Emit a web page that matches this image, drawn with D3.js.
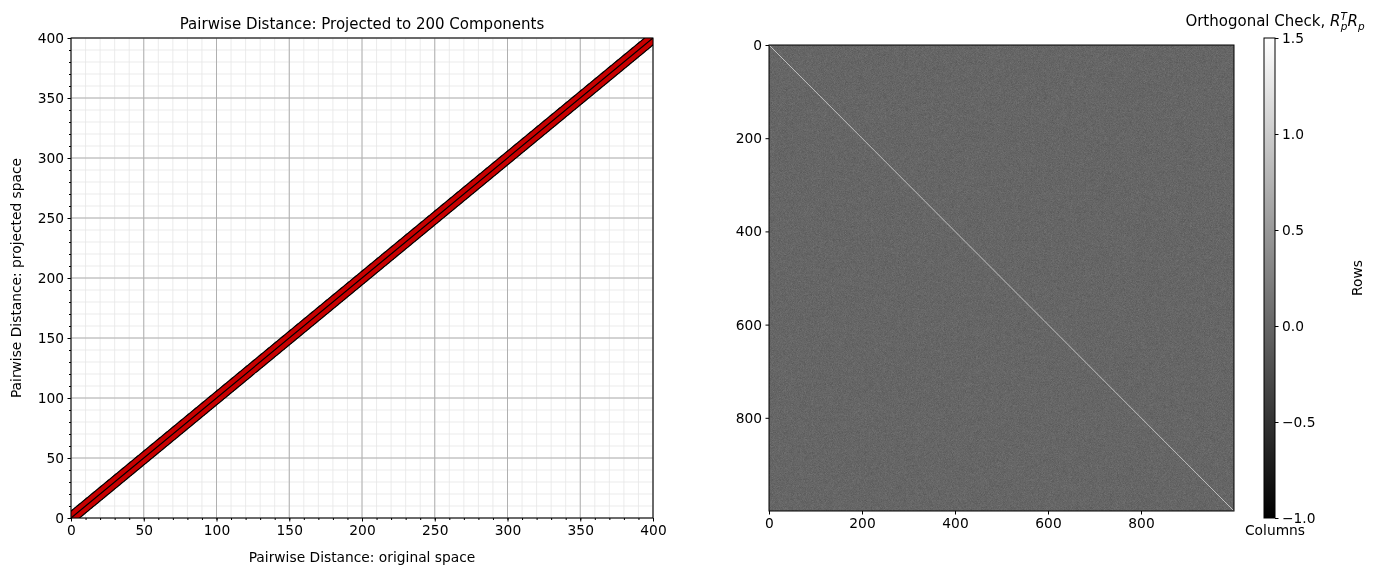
<!DOCTYPE html>
<html><head><meta charset="utf-8">
<script src="https://cdn.jsdelivr.net/npm/d3@7"></script>
<style>body{margin:0;background:#fff}svg{font-family:"DejaVu Sans",sans-serif}</style>
</head><body>
<div style="position:relative;width:1386px;height:576px">
<canvas id="hm" width="1000" height="1000" style="position:absolute;left:769px;top:45px;width:465px;height:466px"></canvas>
<svg id="s" width="1386" height="576" style="position:absolute;left:0;top:0"></svg>
</div>
<script>
const xTicks=[0,50,100,150,200,250,300,350,400];
const yTicks=[0,50,100,150,200,250,300,350,400];
const matTicks=[0,200,400,600,800];
const cbTicks=[-1.0,-0.5,0.0,0.5,1.0,1.5];
const distSamples=d3.range(0,401,1); // original-space distances sampled along band
const bandOffsets=[-2.4,-1.2,0,1.2,2.4]; // projected minus original deviation
const matSize=1000, noiseAmp=0.09, diagVal=1.0;
const FS=13.8;

const svg=d3.select("#s");
const L={x0:71,x1:653,y0:38,y1:518};
const x=d3.scaleLinear().domain([0,400]).range([L.x0,L.x1]);
const y=d3.scaleLinear().domain([0,400]).range([L.y1,L.y0]);
const g=svg.append("g");
d3.range(0,401,10).forEach(v=>{
 g.append("line").attr("x1",x(v)).attr("x2",x(v)).attr("y1",L.y0).attr("y2",L.y1).attr("stroke","#e6e6e6").attr("stroke-width",0.8);
 g.append("line").attr("y1",y(v)).attr("y2",y(v)).attr("x1",L.x0).attr("x2",L.x1).attr("stroke","#e6e6e6").attr("stroke-width",0.8);
});
xTicks.forEach(v=>{
 g.append("line").attr("x1",x(v)).attr("x2",x(v)).attr("y1",L.y0).attr("y2",L.y1).attr("stroke","#b0b0b0").attr("stroke-width",1);
 g.append("line").attr("y1",y(v)).attr("y2",y(v)).attr("x1",L.x0).attr("x2",L.x1).attr("stroke","#b0b0b0").attr("stroke-width",1);
});
svg.append("clipPath").attr("id","c").append("rect").attr("x",L.x0).attr("y",L.y0).attr("width",L.x1-L.x0).attr("height",L.y1-L.y0);
const pts=[];distSamples.forEach(d=>bandOffsets.forEach(o=>pts.push([d,d+o])));
const pg=svg.append("g").attr("clip-path","url(#c)");
pg.selectAll("circle.b").data(pts).join("circle").attr("cx",d=>x(d[0])).attr("cy",d=>y(d[1])).attr("r",3.6).attr("fill","#000");
pg.selectAll("circle.r").data(pts).join("circle").attr("cx",d=>x(d[0])).attr("cy",d=>y(d[1])).attr("r",2.5).attr("fill","#c80000");
pg.append("line").attr("x1",x(0)).attr("y1",y(0)).attr("x2",x(400)).attr("y2",y(400)).attr("stroke","#000").attr("stroke-width",1.2);
svg.append("rect").attr("x",L.x0).attr("y",L.y0).attr("width",L.x1-L.x0).attr("height",L.y1-L.y0).attr("fill","none").attr("stroke","#000");
svg.append("g").attr("transform",`translate(0,${L.y1})`).call(d3.axisBottom(x).tickValues(xTicks).tickSize(3.5).tickPadding(3.5));
svg.append("g").attr("transform",`translate(0,${L.y1})`).call(d3.axisBottom(x).tickValues(d3.range(0,401,10)).tickSize(2).tickFormat(""));
svg.append("g").attr("transform",`translate(${L.x0},0)`).call(d3.axisLeft(y).tickValues(yTicks).tickSize(3.5).tickPadding(3.5));
svg.append("g").attr("transform",`translate(${L.x0},0)`).call(d3.axisLeft(y).tickValues(d3.range(0,401,10)).tickSize(2).tickFormat(""));
svg.selectAll(".domain").remove();
svg.append("text").attr("x",(L.x0+L.x1)/2).attr("y",29).attr("text-anchor","middle").attr("font-size",15).text("Pairwise Distance: Projected to 200 Components");
svg.append("text").attr("x",(L.x0+L.x1)/2).attr("y",562).attr("text-anchor","middle").attr("font-size",FS).text("Pairwise Distance: original space");
svg.append("text").attr("transform",`translate(21,${(L.y0+L.y1)/2}) rotate(-90)`).attr("text-anchor","middle").attr("font-size",FS).text("Pairwise Distance: projected space");

// heatmap
const cb=d3.scaleLinear().domain([-1,1.5]).range([0,255]).clamp(true);
const ctx=document.getElementById("hm").getContext("2d");
const img=ctx.createImageData(matSize,matSize);
function hash(i,j){let h=(i*374761393+j*668265263)^0x5bd1e995;h=Math.imul(h^(h>>>13),1274126177);h^=h>>>16;return (h>>>0)/4294967296;}
for(let i=0;i<matSize;i++)for(let j=0;j<matSize;j++){
 let v;
 if(i===j)v=0;else{const a=hash(i,j),b=hash(j+7,i+3);v=(a+b-1)*noiseAmp*1.7;}
 const c=cb(v),k=(i*matSize+j)*4;img.data[k]=img.data[k+1]=img.data[k+2]=c;img.data[k+3]=255;
}
ctx.putImageData(img,0,0);
const M={x0:769,x1:1234,y0:45,y1:511};
const mx=d3.scaleLinear().domain([0,1000]).range([M.x0,M.x1]);
const my=d3.scaleLinear().domain([0,1000]).range([M.y0,M.y1]);
const gv=cb(diagVal);
svg.append("line").attr("x1",mx(0)).attr("y1",my(0)).attr("x2",mx(1000)).attr("y2",my(1000)).attr("stroke",d3.rgb(gv,gv,gv)).attr("stroke-width",0.9);
svg.append("rect").attr("x",M.x0).attr("y",M.y0).attr("width",M.x1-M.x0).attr("height",M.y1-M.y0).attr("fill","none").attr("stroke","#000");
svg.append("g").attr("class","m").attr("transform",`translate(0,${M.y1})`).call(d3.axisBottom(mx).tickValues(matTicks).tickSize(3.5).tickPadding(3.5));
svg.append("g").attr("class","m").attr("transform",`translate(${M.x0},0)`).call(d3.axisLeft(my).tickValues(matTicks).tickSize(3.5).tickPadding(3.5));
const C={x0:1264,x1:1275,y0:38,y1:518};
const grad=svg.append("defs").append("linearGradient").attr("id","gr").attr("x1",0).attr("y1",1).attr("x2",0).attr("y2",0);
grad.append("stop").attr("offset",0).attr("stop-color","#000");grad.append("stop").attr("offset",1).attr("stop-color","#fff");
svg.append("rect").attr("x",C.x0).attr("y",C.y0).attr("width",C.x1-C.x0).attr("height",C.y1-C.y0).attr("fill","url(#gr)").attr("stroke","#000");
const cy=d3.scaleLinear().domain([-1,1.5]).range([C.y1,C.y0]);
svg.append("g").attr("class","m").attr("transform",`translate(${C.x1},0)`).call(d3.axisRight(cy).tickValues(cbTicks).tickSize(3.5).tickPadding(3.5).tickFormat(d=>d3.format(".1f")(d).replace("-","\u2212")));
svg.selectAll(".m .domain").remove();
svg.selectAll(".tick text").attr("font-size",FS).attr("fill","#000").attr("font-family","DejaVu Sans");
const t=svg.append("text").attr("x",1275).attr("y",26).attr("text-anchor","middle").attr("font-size",15);
t.append("tspan").text("Orthogonal Check, ");
t.append("tspan").attr("font-style","italic").text("R");
t.append("tspan").attr("font-style","italic").attr("font-size",10.5).attr("dy",-6).text("T");
t.append("tspan").attr("font-style","italic").attr("font-size",10.5).attr("dy",10).attr("dx",-6).text("p");
t.append("tspan").attr("font-style","italic").attr("dy",-4).text("R");
t.append("tspan").attr("font-style","italic").attr("font-size",10.5).attr("dy",4).text("p");
svg.append("text").attr("x",1275).attr("y",535).attr("text-anchor","middle").attr("font-size",FS).text("Columns");
svg.append("text").attr("transform",`translate(1362,${(C.y0+C.y1)/2}) rotate(-90)`).attr("text-anchor","middle").attr("font-size",FS).text("Rows");
</script></body></html>
